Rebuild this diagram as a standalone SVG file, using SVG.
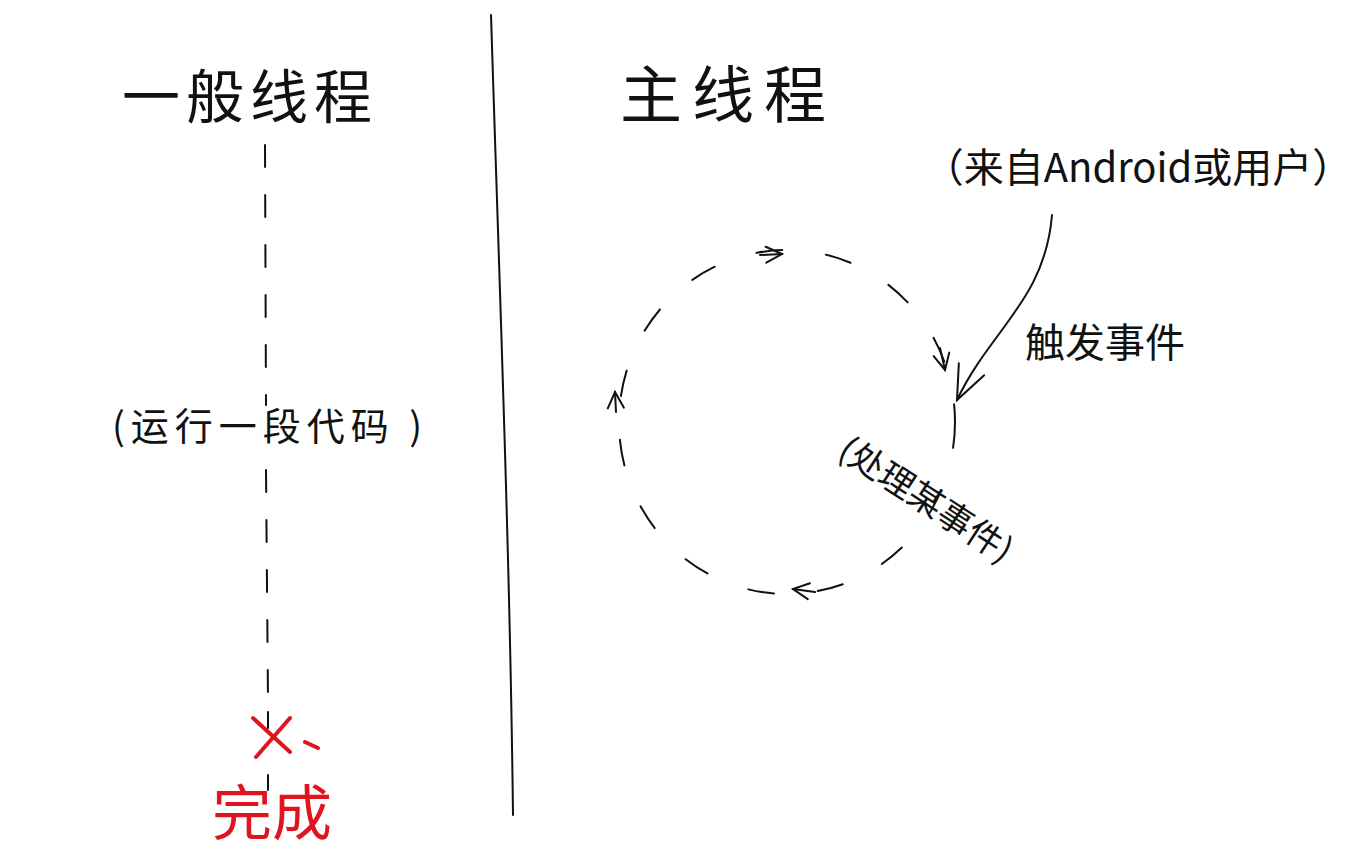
<svg xmlns="http://www.w3.org/2000/svg" width="1365" height="857" viewBox="0 0 1365 857">
<style>
text{font-family:"Noto Sans CJK SC","Liberation Sans",sans-serif;fill:#111;}
.ln{fill:none;stroke:#111;stroke-width:2;stroke-linecap:round;}
.dash{fill:none;stroke:#111;stroke-width:2;stroke-linecap:round;stroke-dasharray:22 28;}
.cdash{fill:none;stroke:#111;stroke-width:2;stroke-linecap:round;stroke-dasharray:26 44;}
.red{fill:none;stroke:#e0141e;stroke-width:4;stroke-linecap:round;}
</style>
<defs>
<marker id="open" viewBox="0 0 20 20" refX="18" refY="10" markerWidth="20" markerHeight="20" markerUnits="userSpaceOnUse" orient="auto"><path d="M2,2 L18,10 L2,18" fill="none" stroke="#111" stroke-width="2" stroke-linecap="round"/></marker>
<marker id="big" viewBox="0 0 40 40" refX="38" refY="20" markerWidth="40" markerHeight="40" markerUnits="userSpaceOnUse" orient="auto"><path d="M4,6 L38,20 L4,34" fill="none" stroke="#111" stroke-width="2" stroke-linecap="round"/></marker>
</defs>
<rect width="1365" height="857" fill="#fff"/>
<g id="divider"><path class="ln" d="M491,15 C500,300 510,560 513,815"/></g>
<g id="normal-thread">
<text x="250" y="118" font-size="58" text-anchor="middle" letter-spacing="6">一般线程</text>
<text x="270" y="440" font-size="38" text-anchor="middle" letter-spacing="6">(运行一段代码 )</text>
</g>
<g id="done">
<path class="red" d="M253,718 L290,752 M290,718 L256,757 M305,742 L318,748"/>
<text x="272" y="835" font-size="60" text-anchor="middle" style="fill:#e0141e">完成</text>
</g>
<g id="main-thread">
<text x="728" y="118" font-size="62" text-anchor="middle" letter-spacing="10">主线程</text>
</g>
<g id="source">
<text x="1138" y="182" font-size="40" text-anchor="middle">（来自Android或用户）</text>
</g>
<g id="trigger-label"><text x="1105" y="357" font-size="40" text-anchor="middle">触发事件</text></g>
<g id="handle-label"><text x="0" y="0" font-size="35" transform="translate(836,456) rotate(33)">(处理某事件)</text></g>
<g id="connectors">
<line class="dash" x1="265" y1="145" x2="266" y2="405"/>
<line class="dash" x1="266" y1="470" x2="268" y2="700"/>
<line class="ln" x1="268" y1="712" x2="268" y2="728"/>
<line class="ln" x1="268" y1="775" x2="268" y2="790"/>
<ellipse class="cdash" cx="787" cy="422" rx="168" ry="172"/>
<path class="ln" d="M760,255 L782,254" marker-end="url(#open)"/>
<path class="ln" d="M940,348 L945,370" marker-end="url(#open)"/>
<path class="ln" d="M815,592 L793,589" marker-end="url(#open)"/>
<path class="ln" d="M616,412 L615,392" marker-end="url(#open)"/>
<path class="ln" d="M1052,215 C1045,300 990,330 957,400" marker-end="url(#big)"/>
</g>
</svg>
